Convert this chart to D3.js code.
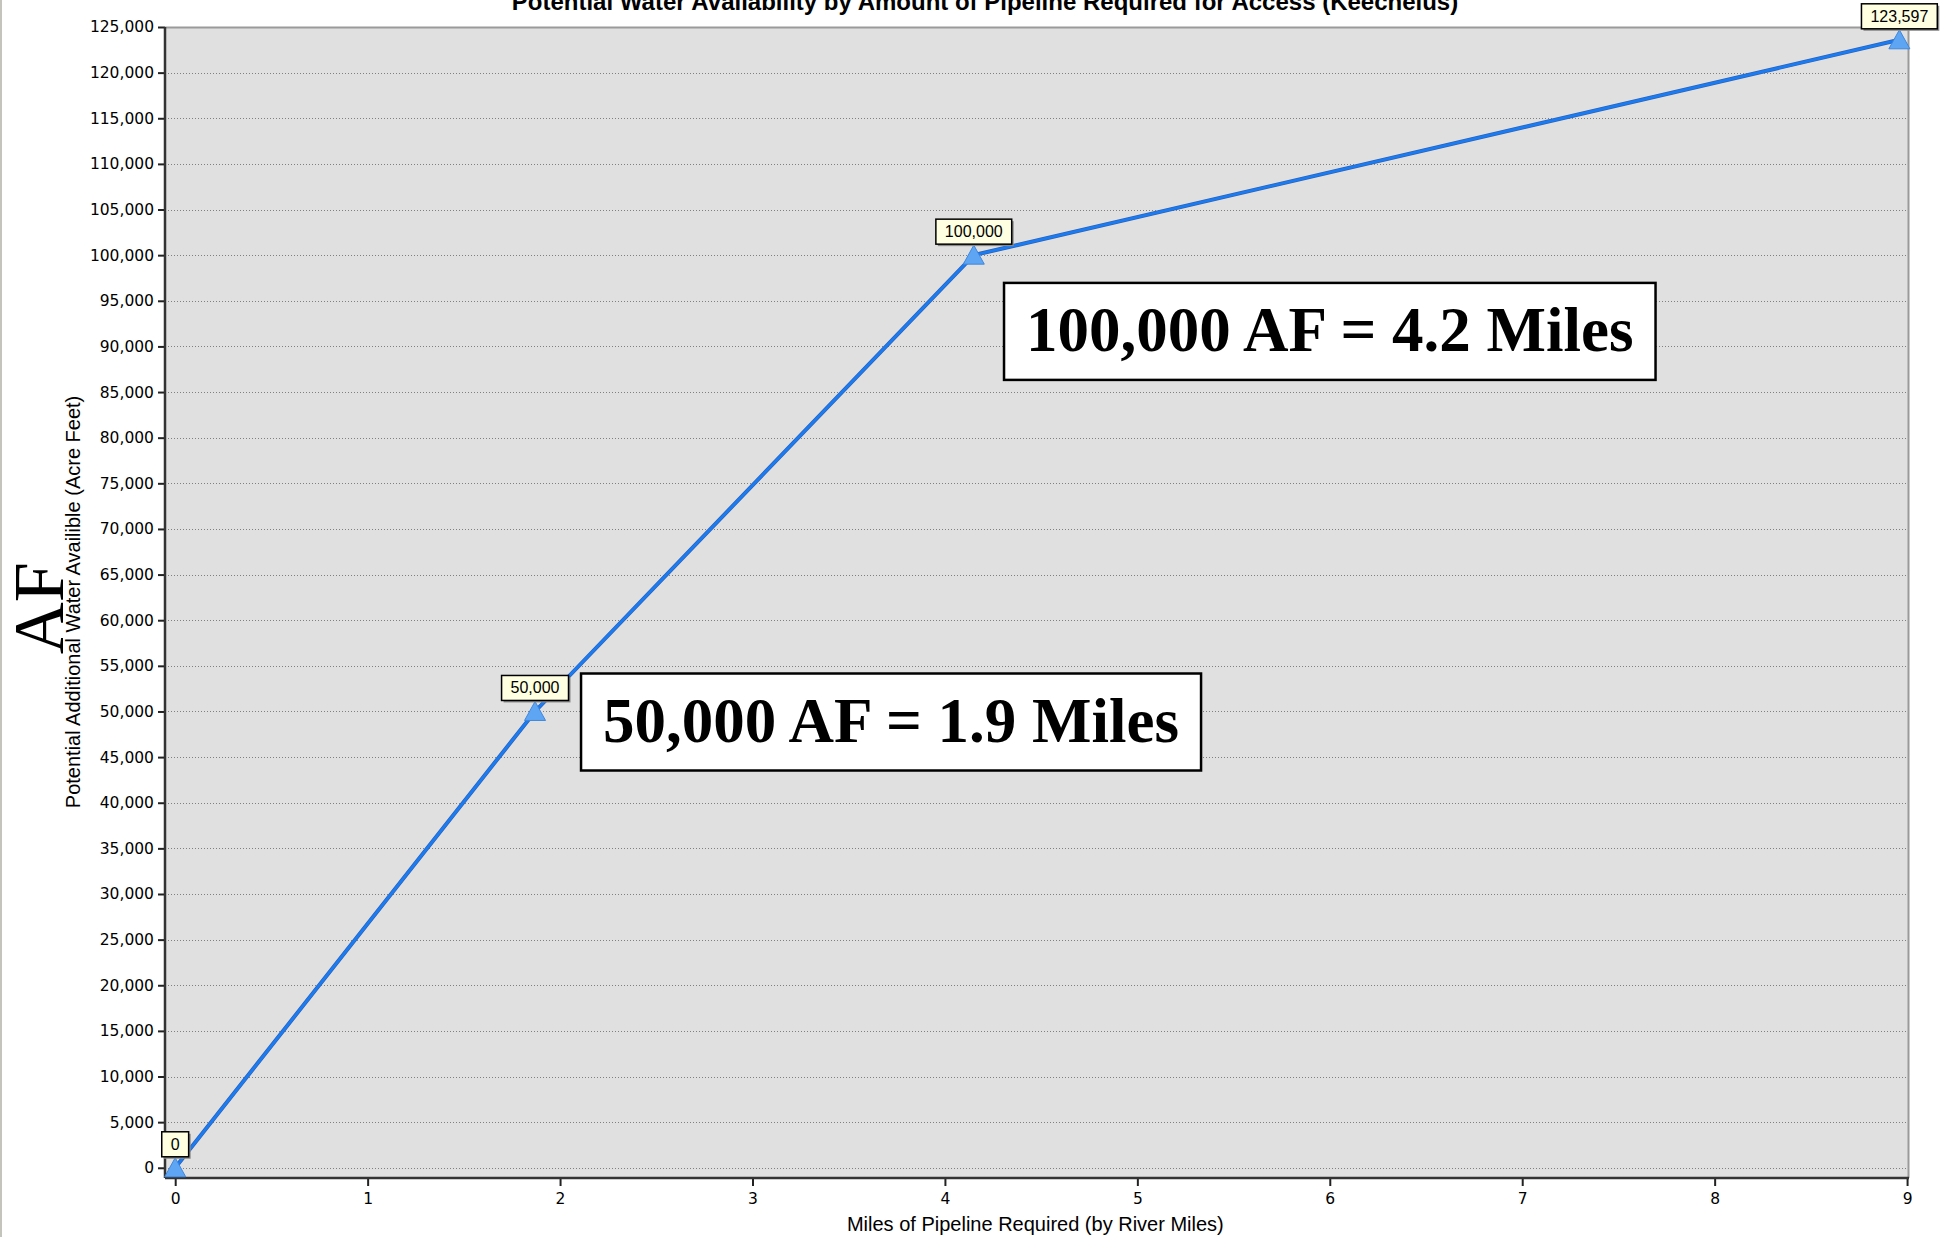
<!DOCTYPE html>
<meta charset="utf-8">
<style>
body { margin: 0; background: #fff; }
svg { display: block; }
.tick text { font-family: "DejaVu Sans", sans-serif; font-size: 15.5px; fill: #000; }
.axis .domain { display: none; }
</style>
<body>
<svg width="1948" height="1237"></svg>
<script src="https://d3js.org/d3.v7.min.js"></script>
<script>
// Potential water availability vs. miles of pipeline (Keechelus)

var miles = [0, 1.87, 4.15, 8.96];
var acreFeet = [0, 50000, 100000, 123597];
var pointLabels = ["0", "50,000", "100,000", "123,597"];

var yTicks = d3.range(0, 125001, 5000);
var xTicks = [0, 1, 2, 3, 4, 5, 6, 7, 8, 9];

// big call-out boxes, centred in data units
var noteText = ["100,000 AF = 4.2 Miles", "50,000 AF = 1.9 Miles"];
var noteX = [6.0, 3.72];
var noteY = [91700, 48900];

var titleText = "Potential Water Availability by Amount of Pipeline Required for Access (Keechelus)";
var xTitle = "Miles of Pipeline Required (by River Miles)";
var yTitle = "Potential Additional Water Availible (Acre Feet)";

var svg = d3.select("svg"),
    margin = {top: 27, right: 39, bottom: 59, left: 165},
    width = +svg.attr("width") - margin.left - margin.right,
    height = +svg.attr("height") - margin.top - margin.bottom;

// thin window edge on the left
svg.append("rect").attr("x", 0).attr("y", 0).attr("width", 2).attr("height", 1237).attr("fill", "#c4c4bc");

var g = svg.append("g").attr("transform", "translate(" + margin.left + "," + margin.top + ")");

var x = d3.scaleLinear().domain([-0.053, 9.01]).range([0, width]);
var y = d3.scaleLinear().domain([-1120, 125000]).range([height, 0]);

g.append("rect")
    .attr("width", width)
    .attr("height", height)
    .attr("fill", "#e0e0e0");

// dotted horizontal grid
g.append("g")
  .selectAll("line")
  .data(yTicks)
  .enter().append("line")
    .attr("x1", 0)
    .attr("x2", width)
    .attr("y1", function(d) { return Math.round(y(d)) + 0.5; })
    .attr("y2", function(d) { return Math.round(y(d)) + 0.5; })
    .attr("stroke", "#808080")
    .attr("stroke-dasharray", "1,2");

// frame: light top/right, dark left/bottom
g.append("path")
    .attr("d", "M0,0.5H" + (width - 0.5) + "V" + height)
    .attr("fill", "none")
    .attr("stroke", "#9a9a9a")
    .attr("stroke-width", 2);

g.append("g")
    .attr("class", "axis")
    .call(d3.axisLeft(y).tickValues(yTicks).tickSize(7).tickPadding(4).tickFormat(d3.format(",")))
    .selectAll(".tick line").attr("stroke", "#222").attr("stroke-width", 2);

g.append("g")
    .attr("class", "axis")
    .attr("transform", "translate(0," + height + ")")
    .call(d3.axisBottom(x).tickValues(xTicks).tickSize(8).tickPadding(7).tickFormat(d3.format("d")))
    .selectAll(".tick line").attr("stroke", "#222").attr("stroke-width", 2);

g.append("line").attr("x1", 0).attr("x2", 0).attr("y1", 0).attr("y2", height)
    .attr("stroke", "#333").attr("stroke-width", 2.5);
g.append("line").attr("x1", 0).attr("x2", width).attr("y1", height).attr("y2", height)
    .attr("stroke", "#333").attr("stroke-width", 2.5);

// series
var pts = miles.map(function(m, i) { return {x: m, y: acreFeet[i], label: pointLabels[i]}; });
var line = d3.line().x(function(d) { return x(d.x); }).y(function(d) { return y(d.y); });

g.append("path")
    .datum(pts)
    .attr("fill", "none")
    .attr("stroke", "#2d62b4")
    .attr("stroke-width", 4)
    .attr("d", line);
g.append("path")
    .datum(pts)
    .attr("fill", "none")
    .attr("stroke", "#1a7cf5")
    .attr("stroke-width", 2.6)
    .attr("d", line);

g.append("g")
  .selectAll("path")
  .data(pts)
  .enter().append("path")
    .attr("transform", function(d) { return "translate(" + x(d.x) + "," + y(d.y) + ")"; })
    .attr("d", "M0,-10L10.5,9H-10.5Z")
    .attr("fill", "#5ea6f4")
    .attr("stroke", "#3f86dc")
    .attr("stroke-width", 1);

// value tags
var tags = g.append("g")
    .attr("font-family", "Liberation Sans, Arial, sans-serif")
    .attr("font-size", 16)
  .selectAll("g")
  .data(pts)
  .enter().append("g")
    .attr("transform", function(d) { return "translate(" + x(d.x) + "," + (y(d.y) - 11) + ")"; });

tags.each(function(d) {
  var t = d3.select(this);
  var txt = t.append("text")
      .attr("text-anchor", "middle")
      .attr("y", -7)
      .text(d.label);
  var w = txt.node().getComputedTextLength() + 18;
  t.insert("rect", "text")
      .attr("x", -w / 2 + 2).attr("y", -23).attr("width", w).attr("height", 25)
      .attr("fill", "#8a8a8a");
  t.insert("rect", "text")
      .attr("x", -w / 2).attr("y", -25).attr("width", w).attr("height", 25)
      .attr("fill", "#ffffe1").attr("stroke", "#000").attr("stroke-width", 1.5);
});

// call-outs
var notes = g.append("g")
  .selectAll("g")
  .data(noteText)
  .enter().append("g")
    .attr("transform", function(d, i) { return "translate(" + x(noteX[i]) + "," + y(noteY[i]) + ")"; });

notes.each(function(d) {
  var t = d3.select(this);
  var txt = t.append("text")
      .attr("text-anchor", "middle")
      .attr("y", 20)
      .attr("font-family", "Liberation Serif, Times New Roman, serif")
      .attr("font-weight", "bold")
      .attr("font-size", 63)
      .text(d);
  var w = txt.node().getComputedTextLength() + 44;
  t.insert("rect", "text")
      .attr("x", -w / 2).attr("y", -48).attr("width", w).attr("height", 97)
      .attr("fill", "#fff").attr("stroke", "#000").attr("stroke-width", 2.5);
});

// titles
svg.append("text")
    .attr("x", 985)
    .attr("y", 10)
    .attr("text-anchor", "middle")
    .attr("font-family", "Liberation Sans, Arial, sans-serif")
    .attr("font-weight", "bold")
    .attr("font-size", 24)
    .text(titleText);

svg.append("text")
    .attr("x", margin.left + x(4.47))
    .attr("y", 1231)
    .attr("text-anchor", "middle")
    .attr("font-family", "Liberation Sans, Arial, sans-serif")
    .attr("font-size", 20)
    .text(xTitle);

svg.append("text")
    .attr("transform", "translate(80," + (margin.top + y(62000)) + ") rotate(-90)")
    .attr("text-anchor", "middle")
    .attr("font-family", "Liberation Sans, Arial, sans-serif")
    .attr("font-size", 20)
    .text(yTitle);

svg.append("text")
    .attr("transform", "translate(63," + (margin.top + y(61300)) + ") rotate(-90)")
    .attr("text-anchor", "middle")
    .attr("font-family", "Liberation Serif, Times New Roman, serif")
    .attr("font-size", 72)
    .text("AF");
</script>
</body>
